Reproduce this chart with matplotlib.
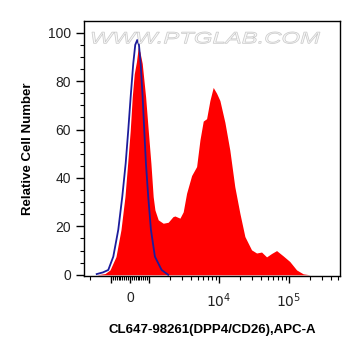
import numpy as np
import matplotlib
matplotlib.use("Agg")
import matplotlib.pyplot as plt
from matplotlib.textpath import TextPath
from matplotlib.font_manager import FontProperties
from matplotlib.patches import PathPatch
from matplotlib.transforms import Affine2D

plt.rcParams['font.family'] = ['Liberation Sans', 'DejaVu Sans']

# red histogram (stained sample), fluorescence vs relative count
red_x = [-2400, -1600, -1218, -1033, -737, -474, -263, -121, 16, 121, 226, 342, 437,
         526, 647, 826, 963, 1068, 1150, 1218, 1358, 1600, 1884, 2202, 2350, 2773,
         3090, 3454, 4074, 4802, 5358, 5972, 6670, 7436, 8294, 9271, 10334, 12180,
         14330, 16870, 19950, 23520, 29280, 34540, 40710, 48000, 56580, 66710,
         82980, 103000, 129000, 160000, 199500, 540000]
red_y = [0, 0, 0.5, 2, 7.5, 18.6, 32.3, 46, 59.8, 73.5, 83, 88, 94,
         92, 87.3, 73.5, 59.8, 46, 32.3, 26.8, 22.7, 21.3, 21.7, 24, 24.3, 23.4,
         26, 33.7, 41, 44.7, 55.7, 63.5, 64.5, 72, 77.4, 75, 72, 63,
         51.5, 36.4, 25.4, 15.8, 10.3, 9, 9.4, 7.4, 8.8, 10,
         7.8, 5.5, 2, 0.4, 0, 0]

# blue line (isotype control)
blue_x = [-1600, -1301, -1093, -879, -616, -405, -226, -89, 37, 174, 279, 384,
          474, 563, 668, 753, 842, 963, 1068, 1218, 1518, 1884]
blue_y = [0.3, 1, 2, 7.5, 18.6, 32.3, 46, 59.8, 73.5, 87.3, 95, 97,
          95, 87.3, 73.5, 59.8, 46, 32.3, 18.6, 7.5, 2, 0]

y_ticks = [0, 20, 40, 60, 80, 100]
x_major = [-1000, 0, 1000, 10000, 100000]
x_labels = ['', '0', '', '$10^4$', '$10^5$']
watermark = 'WWW.PTGLAB.COM'

W, H = 361, 356
fig = plt.figure(figsize=(W / 100, H / 100), dpi=100)
ax = fig.add_axes([0.2327, 0.2247, 0.709, 0.7173])

ax.fill_between(red_x, red_y, 0, color='#ff0000', lw=0, zorder=2)
ax.plot(blue_x, blue_y, color='#1c1c9c', lw=1.3, zorder=3)

ax.set_xscale('symlog', linthresh=1000, linscale=0.244)
ax.set_xlim(-2430, 537000)
ax.set_ylim(-0.5, 105)

# x ticks
minors = [-2000] + [s * k * 100 for s in (-1, 1) for k in range(1, 10)]
minors += [k * 10 ** e for e in (3, 4, 5) for k in range(2, 10) if k * 10 ** e < 537000]
ax.set_xticks(x_major)
ax.set_xticklabels(x_labels)
ax.set_xticks(minors, minor=True)
ax.set_yticks(y_ticks)
ax.set_yticks(np.arange(0, 105, 5), minor=True)

ax.tick_params(axis='both', which='major', length=5, width=1, labelsize=10,
               labelcolor='#222222')
ax.tick_params(axis='both', which='minor', length=3, width=0.8)
ax.tick_params(axis='x', which='major', pad=6)
ax.tick_params(axis='y', which='major', length=6)

for s in ax.spines.values():
    s.set_linewidth(1)

ax.set_ylabel('Relative Cell Number', fontsize=9.5, fontweight='bold', labelpad=9.5)
ax.set_xlabel('CL647-98261(DPP4/CD26),APC-A', fontsize=9.5, fontweight='bold',
              labelpad=10)

# watermark, stretched wide like the original
tp = TextPath((0, 0), watermark, size=1,
              prop=FontProperties(family='Liberation Sans', style='italic'))
ext = tp.get_extents()
sx = 228 / ext.width
sy = 11.7 / 0.72
tr = (Affine2D().translate(-ext.x0, 0).scale(sx, sy).translate(92, H - 43.3)
      .scale(1 / W, 1 / H) + fig.transFigure)
fig.patches.append(PathPatch(tp, transform=tr, facecolor='#f8f8f8',
                             edgecolor='#cacaca', lw=0.55, zorder=5))

fig.savefig('out.png', dpi=100)
